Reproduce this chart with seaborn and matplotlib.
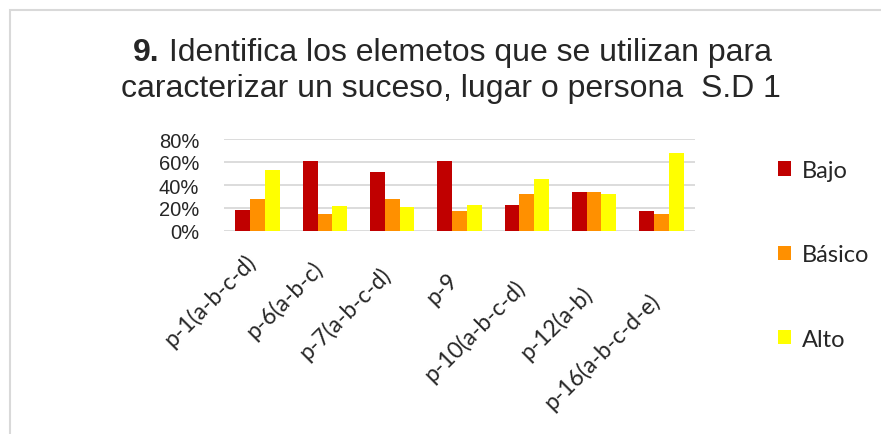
import pandas as pd
import numpy as np
import matplotlib.pyplot as plt
import matplotlib.transforms as mtransforms
import seaborn as sns

preguntas = ['p-1(a-b-c-d)', 'p-6(a-b-c)', 'p-7(a-b-c-d)', 'p-9',
             'p-10(a-b-c-d)', 'p-12(a-b)', 'p-16(a-b-c-d-e)']
niveles = ['Bajo', 'Básico', 'Alto']
bajo = [18, 61, 51, 61, 23, 34, 17]
basico = [28, 15, 28, 17, 32, 34, 15]
alto = [53, 22, 21, 23, 45, 32, 68]
colores = ['#C00000', '#FF9000', '#FFFF00']

df = pd.DataFrame({'pregunta': preguntas * 3,
                   'nivel': np.repeat(niveles, len(preguntas)),
                   'valor': bajo + basico + alto})

sns.set_style('white')
fig = plt.figure(figsize=(8.81, 4.35), dpi=100)
W, H = 881, 435
ax = fig.add_axes([224 / W, 1 - 232 / H, (695 - 224) / W, (232 - 140) / H])

sns.barplot(data=df, x='pregunta', y='valor', hue='nivel', order=preguntas,
            hue_order=niveles, palette=colores, width=0.66, saturation=1,
            ax=ax, edgecolor='none', legend=True)

ax.set_ylim(0, 80)
ax.set_yticks([0, 20, 40, 60, 80])
ax.set_yticklabels([f'{v}%' for v in [0, 20, 40, 60, 80]],
                   fontsize=14.5, family='Liberation Sans')
ax.set_xlim(-0.5, 6.5)
ax.yaxis.grid(True, color='#d9d9d9', lw=1.3)
ax.set_axisbelow(True)
for s in ax.spines.values():
    s.set_visible(False)
ax.tick_params(axis='both', length=0)
ax.tick_params(axis='y', pad=18)
ax.tick_params(axis='x', pad=12)
ax.set_xlabel('')
ax.set_ylabel('')

# etiquetas inclinadas, cada una un poco mas abajo (efecto de perspectiva)
for i, lbl in enumerate(ax.get_xticklabels()):
    lbl.set_rotation(45)
    lbl.set_ha('right')
    lbl.set_rotation_mode('anchor')
    lbl.set_fontsize(16.5)
    lbl.set_family('Lato')
    off = mtransforms.ScaledTranslation(-0.13, -(2 + i * 6.5) / 100,
                                        fig.dpi_scale_trans)
    lbl.set_transform(lbl.get_transform() + off)

handles, labels = ax.get_legend_handles_labels()
ax.legend(handles, labels, loc='upper left', bbox_to_anchor=(778 / W, 1 - 161 / H),
          bbox_transform=fig.transFigure, frameon=False, borderpad=0,
          borderaxespad=0, handlelength=0.56, handleheight=0.56,
          handletextpad=0.45, labelspacing=2.68,
          prop={'family': 'Lato', 'size': 17})

# titulo en dos lineas, "9." en negrita
t1 = fig.text(133 / W, 1 - 61 / H, '9.', fontsize=23, weight='bold',
              family='Liberation Sans', va='baseline', ha='left')
ax.annotate(' Identifica los elemetos que se utilizan para', xy=(1, 0),
            xycoords=t1, va='bottom', ha='left', fontsize=23,
            family='Liberation Sans')
fig.text(451 / W, 1 - 97 / H, 'caracterizar un suceso, lugar o persona  S.D 1',
         fontsize=23, family='Liberation Sans', va='baseline', ha='center')

fig.add_artist(plt.Rectangle((10 / W, -0.05), 1.2, 1.05 - 11 / H,
                             transform=fig.transFigure, fill=False,
                             ec='#d9d9d9', lw=1.5))

fig.savefig('out.png', dpi=100)
